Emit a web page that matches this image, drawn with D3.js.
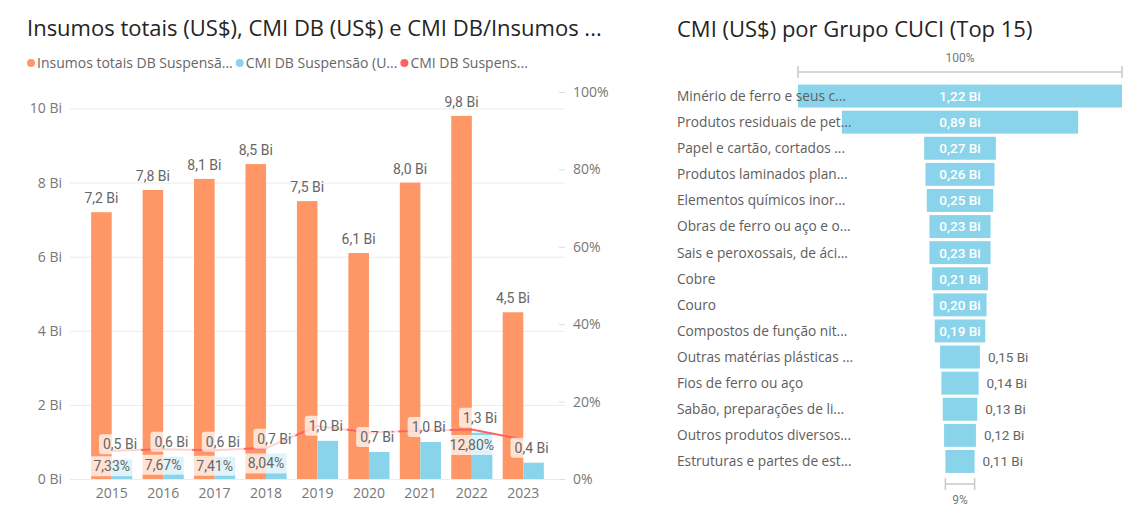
<!DOCTYPE html>
<html>
<head>
<meta charset="utf-8">
<script src="https://cdn.jsdelivr.net/npm/d3@7"></script>
<style>
  body { margin: 0; background: #fff; }
  text { font-family: "Segoe UI", "Open Sans", sans-serif; }
  .lbl { font-family: "Roboto", "Open Sans", sans-serif; }
</style>
</head>
<body>
<svg id="chart" width="1127" height="506"></svg>
<script>
// ---- data (left combo chart) ----
const years = ["2015", "2016", "2017", "2018", "2019", "2020", "2021", "2022", "2023"];
const insumos = [7.2, 7.8, 8.1, 8.5, 7.5, 6.1, 8.0, 9.8, 4.5];      // Bi US$
const cmi = [0.53, 0.60, 0.60, 0.68, 1.03, 0.73, 1.00, 1.25, 0.44];   // Bi US$
const ratio = [7.33, 7.67, 7.41, 8.04, 13.7, 12.0, 12.5, 12.80, 10.2]; // %
const leftTicks = [0, 2, 4, 6, 8, 10];
const rightTicks = [0, 20, 40, 60, 80, 100];
const legendNames = ["Insumos totais DB Suspensã...", "CMI DB Suspensão (U...", "CMI DB Suspens..."];

// ---- data (right funnel) ----
const grupos = [
  "Minério de ferro e seus c...",
  "Produtos residuais de pet...",
  "Papel e cartão, cortados ...",
  "Produtos laminados plan...",
  "Elementos químicos inor...",
  "Obras de ferro ou aço e o...",
  "Sais e peroxossais, de áci...",
  "Cobre",
  "Couro",
  "Compostos de função nit...",
  "Outras matérias plásticas ...",
  "Fios de ferro ou aço",
  "Sabão, preparações de li...",
  "Outros produtos diversos...",
  "Estruturas e partes de est..."
];
const grupoValores = [1.22, 0.89, 0.27, 0.26, 0.25, 0.23, 0.23, 0.21, 0.20, 0.19, 0.15, 0.14, 0.13, 0.12, 0.11];

const colors = ["#FE9666", "#8AD4EB", "#FD625E"];

const pt = d3.formatLocale({decimal: ",", thousands: ".", grouping: [3], currency: ["R$", ""]});
const f1 = pt.format(".1f"), f2 = pt.format(".2f");

const svg = d3.select("#chart");

// ================= left chart =================
const left = svg.append("g");

left.append("text")
  .attr("x", 27).attr("y", 36)
  .attr("font-size", 22).attr("fill", "#252423")
  .text("Insumos totais (US$), CMI DB (US$) e CMI DB/Insumos ...");

// legend
let lx = 31;
legendNames.forEach((name, i) => {
  left.append("circle").attr("cx", lx).attr("cy", 63).attr("r", 4).attr("fill", colors[i]);
  const t = left.append("text")
    .attr("x", lx + 6).attr("y", 68)
    .attr("font-size", 14).attr("fill", "#666")
    .text(name);
  lx += t.node().getComputedTextLength() + 13;
});

const y = d3.scaleLinear().domain([0, 10]).range([479, 108.5]);
const yPct = d3.scaleLinear().domain([0, 100]).range([479, 92]);
const x0 = d3.scaleBand().domain(years).range([86, 549]).paddingInner(0.2).paddingOuter(0.1);
const x1 = d3.scaleBand().domain(["a", "b"]).range([0, x0.bandwidth()]);

// gridlines + left axis
const ay = left.append("g")
  .attr("transform", "translate(70,0)")
  .call(d3.axisLeft(y).tickValues(leftTicks).tickSize(-495).tickPadding(8).tickFormat(d => d + " Bi"));
ay.select(".domain").remove();
ay.selectAll("line").attr("stroke", "#ebebeb");
ay.selectAll("text").attr("font-size", 14).attr("fill", "#777")
  .style("font-family", '"Segoe UI", "Open Sans", sans-serif');

// right axis
const ar = left.append("g")
  .attr("transform", "translate(559,0)")
  .call(d3.axisRight(yPct).tickValues(rightTicks).tickSize(6).tickPadding(8).tickFormat(d => d + "%"));
ar.select(".domain").remove();
ar.selectAll("line").attr("stroke", "#ddd");
ar.selectAll("text").attr("font-size", 14).attr("fill", "#777")
  .style("font-family", '"Segoe UI", "Open Sans", sans-serif');

// x axis
const ax = left.append("g")
  .attr("transform", "translate(0,479)")
  .call(d3.axisBottom(x0).tickSize(0).tickPadding(9));
ax.select(".domain").remove();
ax.selectAll("text").attr("font-size", 14).attr("fill", "#777")
  .style("font-family", '"Segoe UI", "Open Sans", sans-serif');

// bars
const rows = years.map((yr, i) => ({yr, ins: insumos[i], cmi: cmi[i], pct: ratio[i]}));

left.selectAll(".bIns").data(rows).join("rect")
  .attr("x", d => x0(d.yr) + x1("a"))
  .attr("y", d => y(d.ins))
  .attr("width", x1.bandwidth())
  .attr("height", d => y(0) - y(d.ins))
  .attr("fill", colors[0]);

left.selectAll(".bCmi").data(rows).join("rect")
  .attr("x", d => x0(d.yr) + x1("b"))
  .attr("y", d => y(d.cmi))
  .attr("width", x1.bandwidth())
  .attr("height", d => y(0) - y(d.cmi))
  .attr("fill", colors[1]);

// line
const line = d3.line()
  .x(d => x0(d.yr) + x0.bandwidth() / 2)
  .y(d => yPct(d.pct));
left.append("path").datum(rows)
  .attr("d", line)
  .attr("fill", "none")
  .attr("stroke", colors[2])
  .attr("stroke-width", 2);

// orange labels (no box)
left.selectAll(".lIns").data(rows).join("text")
  .attr("class", "lbl")
  .attr("x", d => x0(d.yr) + x1("a") + x1.bandwidth() / 2)
  .attr("y", d => y(d.ins) - 9)
  .attr("text-anchor", "middle")
  .attr("font-size", 14).attr("fill", "#666")
  .text(d => f1(d.ins) + " Bi");

// boxed labels for cmi bars and the ratio line
function boxedLabel(g, cx, cy, txt) {
  const grp = g.append("g");
  const rect = grp.append("rect");
  const t = grp.append("text")
    .attr("class", "lbl")
    .attr("x", cx).attr("y", cy).attr("dy", "0.36em")
    .attr("text-anchor", "middle")
    .attr("font-size", 14).attr("fill", "#666")
    .text(txt);
  const bb = t.node().getBBox();
  rect.attr("x", bb.x - 4).attr("y", cy - 10).attr("width", bb.width + 8).attr("height", 20)
    .attr("rx", 3).attr("fill", "#fff").attr("fill-opacity", 0.72);
  return {x: bb.x - 4, y: cy - 10, w: bb.width + 8, h: 20};
}

const labelLayer = left.append("g");
const cmiBoxes = rows.map(d => boxedLabel(labelLayer,
  x0(d.yr) + x1("b") + x1.bandwidth() / 2 - 2, y(d.cmi) - 15, f1(d.cmi) + " Bi"));

// ratio labels below the line point, hidden when they collide with a cmi label
rows.forEach((d, i) => {
  const cy = yPct(d.pct) + 15.5;
  const b = cmiBoxes[i];
  if (Math.abs(cy - (b.y + b.h / 2)) < 20) return;
  boxedLabel(labelLayer, x0(d.yr) + x0.bandwidth() / 2, cy, f2(d.pct) + "%");
});

// ================= right funnel =================
const right = svg.append("g");

right.append("text")
  .attr("x", 677).attr("y", 37)
  .attr("font-size", 22).attr("fill", "#252423")
  .text("CMI (US$) por Grupo CUCI (Top 15)");

const fx = d3.scaleLinear().domain([0, d3.max(grupoValores)]).range([0, 324]);
const fy = d3.scaleBand().domain(grupos).range([83, 474.5]).paddingInner(0.12).paddingOuter(0.06);
const cxF = 960;
const fdata = grupos.map((g, i) => ({g, v: grupoValores[i]}));

// brackets above and below the funnel
const topW = fx(fdata[0].v), botW = fx(fdata[fdata.length - 1].v);
function bracket(yy, w) {
  right.append("line").attr("x1", cxF - w / 2).attr("x2", cxF + w / 2).attr("y1", yy).attr("y2", yy)
    .attr("stroke", "#c8c8c8").attr("stroke-width", 1.5);
  [cxF - w / 2, cxF + w / 2].forEach(xx =>
    right.append("line").attr("x1", xx).attr("x2", xx).attr("y1", yy - 6).attr("y2", yy + 6)
      .attr("stroke", "#c8c8c8").attr("stroke-width", 1.5));
}
bracket(72, topW);
right.append("text").attr("class", "lbl").attr("x", cxF).attr("y", 62).attr("text-anchor", "middle")
  .attr("font-size", 12).attr("fill", "#777").text("100%");
bracket(484, botW);
right.append("text").attr("class", "lbl").attr("x", cxF).attr("y", 504).attr("text-anchor", "middle")
  .attr("font-size", 12).attr("fill", "#777")
  .text(d3.format(".0%")(fdata[fdata.length - 1].v / fdata[0].v));

right.selectAll(".fbar").data(fdata).join("rect")
  .attr("x", d => cxF - fx(d.v) / 2)
  .attr("y", d => fy(d.g))
  .attr("width", d => fx(d.v))
  .attr("height", fy.bandwidth())
  .attr("fill", colors[1]);

right.selectAll(".fcat").data(fdata).join("text")
  .attr("x", 677)
  .attr("y", d => fy(d.g) + fy.bandwidth() / 2)
  .attr("dy", "0.36em")
  .attr("font-size", 13.7).attr("fill", "#605E5C")
  .text(d => d.g);

right.selectAll(".fval").data(fdata).join("text")
  .attr("class", "lbl")
  .attr("y", d => fy(d.g) + fy.bandwidth() / 2)
  .attr("dy", "0.36em")
  .attr("font-size", 13.5)
  .text(d => f2(d.v) + " Bi")
  .each(function (d) {
    const w = this.getComputedTextLength();
    const bw = fx(d.v);
    const sel = d3.select(this);
    if (w + 8 < bw) {
      sel.attr("x", cxF).attr("text-anchor", "middle").attr("fill", "#fff").attr("font-weight", 500);
    } else {
      sel.attr("x", cxF + bw / 2 + 8).attr("text-anchor", "start").attr("fill", "#666");
    }
  });
</script>
</body>
</html>
